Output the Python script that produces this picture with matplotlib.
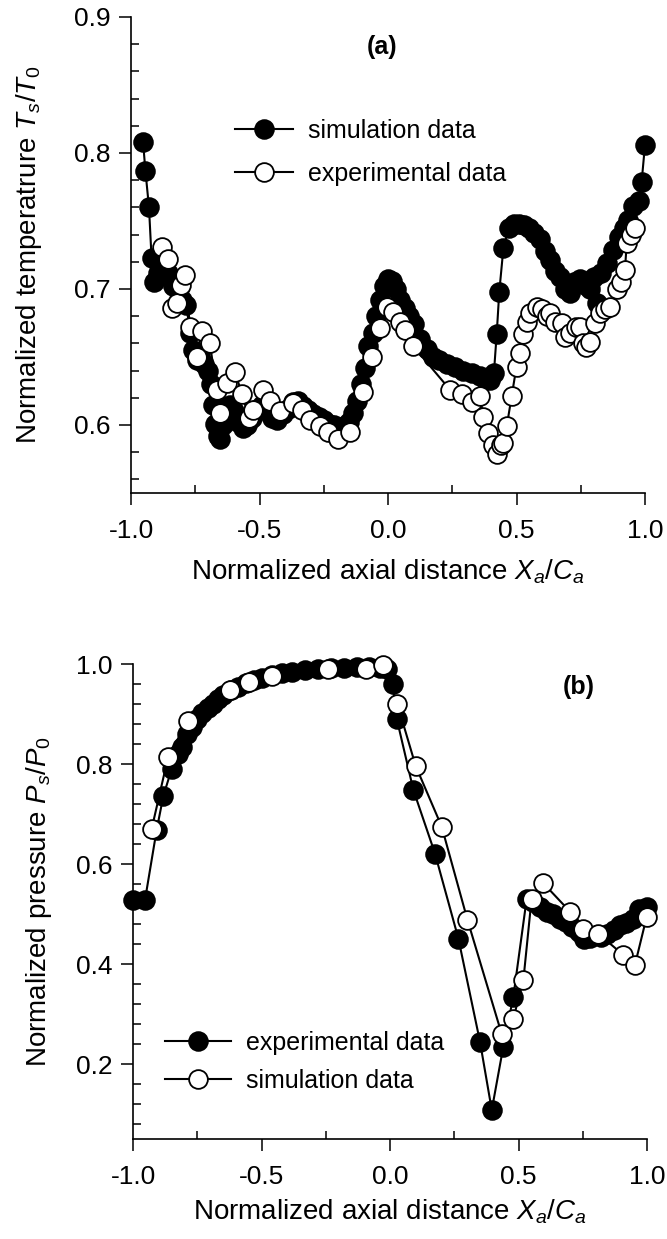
import matplotlib
matplotlib.use("Agg")
import matplotlib.pyplot as plt
from matplotlib.ticker import MultipleLocator, FixedLocator, FormatStrFormatter

plt.rcParams['font.family'] = ['Liberation Sans', 'DejaVu Sans']
plt.rcParams['mathtext.fontset'] = 'custom'
plt.rcParams['mathtext.it'] = 'Liberation Sans:italic'
plt.rcParams['mathtext.rm'] = 'Liberation Sans'

# ---------------- Panel (a) data ----------------
a_sim_x = [-0.953, -0.944, -0.930, -0.920, -0.912, -0.895, -0.875, -0.855, -0.835, -0.815,
           -0.800, -0.785, -0.770, -0.758, -0.745, -0.730, -0.715, -0.700, -0.690, -0.680,
           -0.672, -0.662, -0.652, -0.642, -0.630, -0.615, -0.600, -0.585, -0.565, -0.550,
           -0.530, -0.510, -0.490, -0.470, -0.450, -0.430, -0.410, -0.390, -0.370, -0.350,
           -0.330, -0.310, -0.290, -0.270, -0.250, -0.230, -0.210, -0.190, -0.170, -0.150,
           -0.135, -0.120, -0.105, -0.090, -0.077, -0.060, -0.045, -0.030, -0.015, 0.000,
           0.015, 0.030, 0.047, 0.065, 0.082, 0.100, 0.124, 0.150, 0.176, 0.200,
           0.230, 0.260, 0.293, 0.325, 0.358, 0.380, 0.397, 0.412, 0.423, 0.433,
           0.449, 0.470, 0.490, 0.510, 0.530, 0.550, 0.570, 0.591, 0.610, 0.630,
           0.650, 0.669, 0.688, 0.708, 0.725, 0.747, 0.765, 0.785, 0.800, 0.812,
           0.830, 0.851, 0.877, 0.900, 0.920, 0.935, 0.955, 0.975, 0.987, 1.000]
a_sim_y = [0.808, 0.787, 0.760, 0.723, 0.705, 0.712, 0.715, 0.712, 0.702, 0.700,
           0.692, 0.688, 0.668, 0.655, 0.648, 0.652, 0.645, 0.640, 0.630, 0.615,
           0.601, 0.592, 0.590, 0.600, 0.612, 0.615, 0.610, 0.602, 0.598, 0.600,
           0.605, 0.612, 0.615, 0.610, 0.605, 0.604, 0.608, 0.612, 0.617, 0.618,
           0.614, 0.611, 0.608, 0.606, 0.604, 0.601, 0.600, 0.598, 0.599, 0.602,
           0.609, 0.618, 0.630, 0.642, 0.658, 0.668, 0.680, 0.692, 0.702, 0.707,
           0.706, 0.700, 0.692, 0.686, 0.680, 0.674, 0.663, 0.656, 0.650, 0.648,
           0.645, 0.643, 0.640, 0.638, 0.636, 0.633, 0.633, 0.638, 0.667, 0.698,
           0.730, 0.745, 0.748, 0.748, 0.747, 0.745, 0.741, 0.737, 0.728, 0.721,
           0.713, 0.709, 0.700, 0.697, 0.705, 0.707, 0.703, 0.700, 0.709, 0.690,
           0.712, 0.719, 0.729, 0.738, 0.745, 0.751, 0.761, 0.765, 0.779, 0.806]

a_exp_x = [-0.881, -0.855, -0.842, -0.822, -0.805, -0.790, -0.770, -0.744, -0.725, -0.693,
           -0.667, -0.654, -0.628, -0.595, -0.569, -0.540, -0.524, -0.485, -0.459, -0.420,
           -0.368, -0.336, -0.304, -0.265, -0.232, -0.193, -0.148, -0.096, -0.063, -0.031,
           -0.005, 0.020, 0.045, 0.066, 0.098, 0.241, 0.287, 0.325, 0.358, 0.371,
           0.391, 0.410, 0.423, 0.440, 0.449, 0.462, 0.481, 0.500, 0.514, 0.527,
           0.540, 0.552, 0.578, 0.600, 0.617, 0.630, 0.650, 0.676, 0.690, 0.708,
           0.730, 0.747, 0.760, 0.772, 0.786, 0.805, 0.825, 0.845, 0.864, 0.890,
           0.905, 0.922, 0.929, 0.945, 0.960]
a_exp_y = [0.731, 0.722, 0.686, 0.690, 0.703, 0.710, 0.672, 0.650, 0.669, 0.660,
           0.626, 0.609, 0.631, 0.639, 0.623, 0.605, 0.611, 0.626, 0.618, 0.610,
           0.616, 0.611, 0.604, 0.599, 0.595, 0.590, 0.595, 0.624, 0.650, 0.671,
           0.687, 0.683, 0.676, 0.670, 0.658, 0.626, 0.623, 0.617, 0.621, 0.606,
           0.594, 0.585, 0.579, 0.585, 0.587, 0.599, 0.621, 0.643, 0.653, 0.667,
           0.676, 0.682, 0.687, 0.685, 0.680, 0.682, 0.676, 0.675, 0.665, 0.668,
           0.672, 0.672, 0.660, 0.657, 0.661, 0.675, 0.682, 0.685, 0.687, 0.700,
           0.705, 0.714, 0.734, 0.740, 0.745]

# ---------------- Panel (b) data ----------------
b_exp_x = [-1.000, -0.953, -0.908, -0.882, -0.849, -0.825, -0.811, -0.790, -0.770, -0.750,
           -0.730, -0.710, -0.690, -0.670, -0.650, -0.620, -0.590, -0.560, -0.530, -0.500,
           -0.460, -0.420, -0.380, -0.330, -0.280, -0.230, -0.180, -0.130, -0.080, -0.040,
           -0.010, 0.010, 0.026, 0.091, 0.175, 0.266, 0.350, 0.396, 0.441, 0.480,
           0.532, 0.555, 0.584, 0.610, 0.635, 0.660, 0.685, 0.710, 0.735, 0.755,
           0.780, 0.800, 0.820, 0.845, 0.870, 0.895, 0.920, 0.945, 0.970, 1.000]
b_exp_y = [0.529, 0.529, 0.668, 0.736, 0.791, 0.820, 0.835, 0.860, 0.875, 0.890,
           0.902, 0.912, 0.920, 0.930, 0.938, 0.948, 0.955, 0.962, 0.968, 0.973,
           0.978, 0.982, 0.985, 0.988, 0.990, 0.992, 0.993, 0.994, 0.994, 0.993,
           0.990, 0.960, 0.891, 0.748, 0.621, 0.451, 0.245, 0.108, 0.235, 0.335,
           0.531, 0.525, 0.515, 0.505, 0.500, 0.490, 0.485, 0.475, 0.465, 0.450,
           0.452, 0.458, 0.455, 0.460, 0.468, 0.478, 0.482, 0.490, 0.510, 0.515]

b_sim_x = [-0.927, -0.863, -0.786, -0.623, -0.550, -0.460, -0.243, -0.094, -0.026, 0.028,
           0.100, 0.201, 0.301, 0.434, 0.480, 0.519, 0.551, 0.594, 0.700, 0.752,
           0.810, 0.908, 0.953, 0.999]
b_sim_y = [0.671, 0.815, 0.887, 0.948, 0.964, 0.977, 0.990, 0.990, 0.998, 0.921,
           0.796, 0.675, 0.489, 0.261, 0.291, 0.368, 0.531, 0.563, 0.505, 0.471,
           0.461, 0.418, 0.398, 0.495]

x_ticks = [-1.0, -0.5, 0.0, 0.5, 1.0]
a_yticks = [0.6, 0.7, 0.8, 0.9]
b_yticks = [0.2, 0.4, 0.6, 0.8, 1.0]

W, H = 667, 1239
fig = plt.figure(figsize=(W / 100, H / 100), dpi=100)

def rect(l, t, r, b):
    return [l / W, 1 - b / H, (r - l) / W, (b - t) / H]

axa = fig.add_axes(rect(131, 17, 645, 493))
axb = fig.add_axes(rect(133, 664, 647, 1139))

ms = 13.5
mew = 1.3
lw = 1.5
fs_tick = 19
fs_lab = 20
fs_leg = 18

def style(ax, yticks, ymin, ymax, yminor, xlabelpad):
    ax.set_xlim(-1.0, 1.0)
    ax.set_ylim(ymin, ymax)
    for s in ['top', 'right']:
        ax.spines[s].set_visible(False)
    for s in ['left', 'bottom']:
        ax.spines[s].set_linewidth(1.2)
    ax.set_xticks(x_ticks)
    ax.xaxis.set_minor_locator(FixedLocator([-0.75, -0.25, 0.25, 0.75]))
    ax.set_yticks(yticks)
    ax.yaxis.set_minor_locator(MultipleLocator(yminor))
    ax.xaxis.set_major_formatter(FormatStrFormatter('%.1f'))
    ax.yaxis.set_major_formatter(FormatStrFormatter('%.1f'))
    ax.tick_params(which='major', direction='out', length=8.5, width=1.1,
                   labelsize=fs_tick, pad=6)
    ax.tick_params(axis='x', which='major', pad=10)
    ax.tick_params(which='minor', direction='in', length=6, width=1.1)
    ax.set_xlabel(r'Normalized axial distance $X_a/C_a$', fontsize=fs_lab,
                  labelpad=xlabelpad)

# Panel (a)
axa.plot(a_sim_x, a_sim_y, '-o', color='black', lw=lw, ms=ms, mfc='black', mec='black',
         mew=mew, label='simulation data', clip_on=False, zorder=3)
axa.plot(a_exp_x, a_exp_y, '-o', color='black', lw=lw, ms=ms, mfc='white', mec='black',
         mew=mew, label='experimental data', clip_on=False, zorder=4)
style(axa, a_yticks, 0.55, 0.9, 0.02, 11)
axa.set_ylabel(r'Normalized temperatrure $T_s/T_0$', fontsize=fs_lab, labelpad=22)
axa.text(382 / W, 1 - 47 / H, '(a)', transform=fig.transFigure, ha='center', va='center',
         fontsize=fs_leg, fontweight='bold')
axa.legend(loc='upper left', bbox_to_anchor=(235 / W, 1 - 119 / H),
           bbox_transform=fig.transFigure, frameon=False, fontsize=fs_leg,
           handlelength=2.3, handletextpad=0.6, labelspacing=0.75,
           borderpad=0, borderaxespad=0, markerscale=1.0)

# Panel (b)
axb.plot(b_exp_x, b_exp_y, '-o', color='black', lw=lw, ms=ms, mfc='black', mec='black',
         mew=mew, label='experimental data', clip_on=False, zorder=3)
axb.plot(b_sim_x, b_sim_y, '-o', color='black', lw=lw, ms=ms, mfc='white', mec='black',
         mew=mew, label='simulation data', clip_on=False, zorder=4)
style(axb, b_yticks, 0.05, 1.0, 0.04, 6)
axb.set_ylabel(r'Normalized pressure $P_s/P_0$', fontsize=fs_lab, labelpad=16)
axb.text(579 / W, 1 - 687 / H, '(b)', transform=fig.transFigure, ha='center', va='center',
         fontsize=fs_leg, fontweight='bold')
axb.legend(loc='upper left', bbox_to_anchor=(165 / W, 1 - 1031 / H),
           bbox_transform=fig.transFigure, frameon=False, fontsize=fs_leg,
           handlelength=2.65, handletextpad=0.6, labelspacing=0.55,
           borderpad=0, borderaxespad=0, markerscale=1.0)

fig.savefig('out.png', dpi=100)
